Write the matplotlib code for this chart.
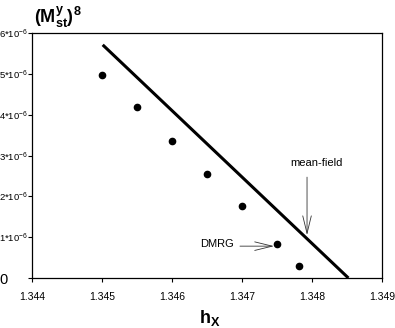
import numpy as np
import matplotlib.pyplot as plt

plt.rcParams['font.family'] = ['Liberation Sans', 'DejaVu Sans']
plt.rcParams['mathtext.fontset'] = 'custom'
plt.rcParams['mathtext.rm'] = 'Liberation Sans'
plt.rcParams['mathtext.bf'] = 'Liberation Sans:bold'
plt.rcParams['mathtext.default'] = 'regular'

# DMRG points
h_dmrg = [1.3450, 1.3455, 1.3460, 1.3465, 1.3470, 1.3475, 1.34781]
m_dmrg = [4.97e-6, 4.19e-6, 3.36e-6, 2.55e-6, 1.76e-6, 0.83e-6, 0.29e-6]

# mean-field line
h_mf = [1.34501, 1.34852]
m_mf = [5.71e-6, 0.0]

xticks = [1.344, 1.345, 1.346, 1.347, 1.348, 1.349]
yticks = [0, 1e-6, 2e-6, 3e-6, 4e-6, 5e-6, 6e-6]
ytick_labels = ['0'] + [r'%d*10$^{-6}$' % i for i in range(1, 7)]

fig = plt.figure(figsize=(3.95, 3.28), dpi=100)
ax = fig.add_axes([32 / 395, 1 - 278 / 328, 350 / 395, 245 / 328])

ax.plot(h_mf, m_mf, color='black', lw=2.2, solid_capstyle='butt')
ax.plot(h_dmrg, m_dmrg, 'o', color='black', ms=4.5)

ax.set_xlim(1.344, 1.349)
ax.set_ylim(0, 6e-6)
ax.set_xticks(xticks)
ax.set_xticklabels(['%.3f' % x for x in xticks], fontsize=7.5)
ax.set_yticks(yticks)
ax.set_yticklabels(ytick_labels, fontsize=6.8)
ax.tick_params(direction='out', length=3, width=0.8)
ax.tick_params(axis='x', pad=7)
ax.tick_params(axis='y', pad=0)
# the "0" label sits at the far left, a bit larger
zero = ax.get_yticklabels()[0]
zero.set_fontsize(10.5)
zero.set_ha('left')
zero.set_x(-28 / 350)
for s in ax.spines.values():
    s.set_linewidth(0.9)

# annotations
head = '->,head_length=0.9,head_width=0.22'
ax.annotate('', xy=(1.347929, 1.05e-6), xytext=(1.347929, 2.47e-6),
            arrowprops=dict(arrowstyle=head, color='#333333', lw=0.6,
                            shrinkA=0, shrinkB=0, mutation_scale=14))
ax.text(1.348057, 2.82e-6, 'mean-field', ha='center', va='center', fontsize=8)
ax.annotate('', xy=(1.347457, 0.78e-6), xytext=(1.346971, 0.78e-6),
            arrowprops=dict(arrowstyle=head, color='#333333', lw=0.6,
                            shrinkA=0, shrinkB=0, mutation_scale=14))
ax.text(1.346643, 0.83e-6, 'DMRG', ha='center', va='center', fontsize=8)

fig.text(210 / 395, 1 - 318 / 328, r'$\mathbf{h_X}$', ha='center', va='center',
         fontsize=13)
fig.text(34 / 395, 1 - 17 / 328, r'$\mathbf{(M_{st}^{y})^8}$', ha='left',
         va='center', fontsize=13)

fig.savefig('out.png', dpi=100)
